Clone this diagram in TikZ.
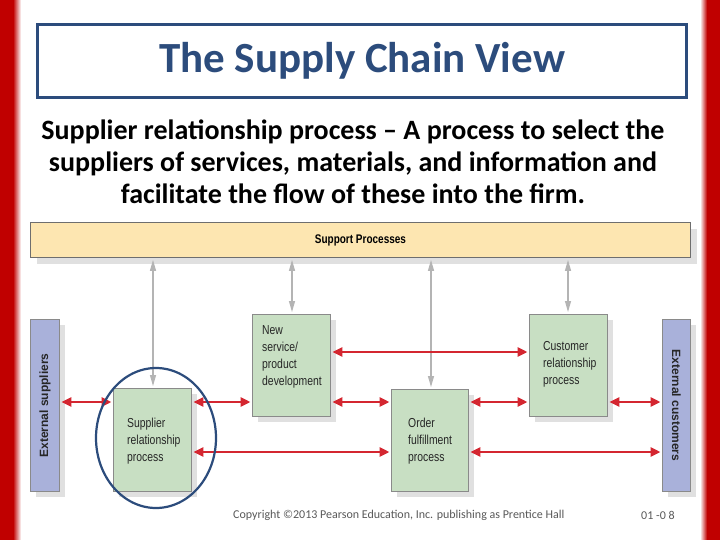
\documentclass[tikz,border=0pt]{standalone}
\usepackage{fontspec}
\setmainfont{Carlito}
\newfontfamily\diagfont[FakeStretch=0.8]{Liberation Sans}
\newfontfamily\sidefont{Liberation Sans}
\usetikzlibrary{arrows.meta,shadows}
\definecolor{titleblue}{HTML}{2C4C7C}
\definecolor{borderred}{HTML}{C00000}
\definecolor{arrowred}{HTML}{D42630}
\definecolor{boxgreen}{HTML}{C8DFC3}
\definecolor{boxlav}{HTML}{A9B1DA}
\definecolor{supyellow}{HTML}{FDE6B1}
\definecolor{shadowgray}{HTML}{E0E0E0}
\definecolor{conngray}{HTML}{B4B4B4}
\definecolor{edgegray}{HTML}{8A8A8A}
\tikzset{
  procbox/.style={draw=edgegray, line width=0.9pt, fill=boxgreen, anchor=north west,
    drop shadow={shadow xshift=6pt, shadow yshift=-6pt, fill=shadowgray, opacity=1}},
  extbox/.style={draw=edgegray, line width=0.9pt, fill=boxlav, anchor=north west,
    drop shadow={shadow xshift=6pt, shadow yshift=-6pt, fill=shadowgray, opacity=1}},
  boxtext/.style={anchor=west, align=left, font=\diagfont\fontsize{13}{17}\selectfont, text=black!85, inner sep=0pt},
  redarrow/.style={draw=arrowred, line width=2.8pt, {Triangle[length=10pt,width=9pt]}-{Triangle[length=10pt,width=9pt]}, shorten <=1.5pt, shorten >=1.5pt},
  grayarrow/.style={draw=conngray, line width=1.1pt, {Triangle[length=11pt,width=6pt]}-{Triangle[length=11pt,width=6pt]}, shorten <=2pt, shorten >=2pt},
}
\begin{document}
\begin{tikzpicture}[x=1pt,y=-1pt]
\useasboundingbox (0,0) rectangle (720,540);
\fill[white] (0,0) rectangle (720,540);
% red borders
\fill[borderred] (0,0) rectangle (13,540);
\shade[left color=borderred, right color=white] (13,0) rectangle (21,540);
\fill[borderred] (707,0) rectangle (720,540);
\shade[left color=white, right color=borderred] (700,0) rectangle (707,540);
% title
\node[draw=titleblue, line width=3pt, minimum width=649pt, minimum height=73pt, anchor=north west,
  font=\bfseries\fontsize{43}{48}\selectfont, text=titleblue] (title) at (36,23) {The Supply Chain View};
% body text
\node[align=center, font=\bfseries\fontsize{28}{32}\selectfont, inner sep=0pt] (body) at (353,162)
  {Supplier relationship process -- A process to select the\\
   suppliers of services, materials, and information and\\
   facilitate the flow of these into the firm.};
% support bar
\node[draw=edgegray!80!black, line width=0.9pt, fill=supyellow, anchor=north west,
  minimum width=660pt, minimum height=35pt,
  drop shadow={shadow xshift=7pt, shadow yshift=-7pt, fill=shadowgray, opacity=1},
  font=\diagfont\bfseries\fontsize{12.5}{14}\selectfont] (support) at (30,222) {Support Processes};
% boxes
\node[extbox, minimum width=29pt, minimum height=172pt] (extsup) at (30,319) {};
\node[extbox, minimum width=28pt, minimum height=172pt] (extcus) at (662,319) {};
\node[procbox, minimum width=78pt, minimum height=103pt] (sup) at (113,388) {};
\node[procbox, minimum width=78pt, minimum height=102pt] (newsvc) at (252,314) {};
\node[procbox, minimum width=77pt, minimum height=102pt] (order) at (391,389) {};
\node[procbox, minimum width=78pt, minimum height=102pt] (cust) at (529,314) {};
% texts
\node[rotate=90, font=\sidefont\bfseries\fontsize{12}{14}\selectfont, text=black!85, inner sep=0pt] (extsuptxt) at (extsup.center) {External suppliers};
\node[rotate=-90, font=\sidefont\bfseries\fontsize{12}{14}\selectfont, text=black!85, inner sep=0pt] (extcustxt) at (extcus.center) {External customers};
\node[boxtext] (suptxt) at (127,441) {Supplier\\relationship\\process};
\node[boxtext] (newtxt) at (262,357) {New\\service/\\product\\development};
\node[boxtext] (ordtxt) at (408,441) {Order\\fulfillment\\process};
\node[boxtext] (custxt) at (543,364) {Customer\\relationship\\process};
% gray arrows
\draw[grayarrow] (support.south -| 153,0) -- (sup.north -| 153,0);
\draw[grayarrow] (support.south -| 292,0) -- (newsvc.north -| 292,0);
\draw[grayarrow] (support.south -| 431,0) -- (order.north -| 431,0);
\draw[grayarrow] (support.south -| 568,0) -- (cust.north -| 568,0);
% red arrows
\draw[redarrow] (extsup.east |- 0,402) -- (sup.west |- 0,402);
\draw[redarrow] (sup.east |- 0,402) -- (newsvc.west |- 0,402);
\draw[redarrow] (newsvc.east |- 0,352) -- (cust.west |- 0,352);
\draw[redarrow] (newsvc.east |- 0,402) -- (order.west |- 0,402);
\draw[redarrow] (sup.east |- 0,452) -- (order.west |- 0,452);
\draw[redarrow] (order.east |- 0,402) -- (cust.west |- 0,402);
\draw[redarrow] (cust.east |- 0,402) -- (extcus.west |- 0,402);
\draw[redarrow] (order.east |- 0,452) -- (extcus.west |- 0,452);
% highlight ellipse
\draw[titleblue, line width=2.2pt] (156,438) ellipse [x radius=60, y radius=70];
% footer
\node[anchor=west, font=\fontsize{12}{14}\selectfont, text=black!65, inner sep=0pt] (copy) at (233,515)
  {Copyright ©2013 Pearson Education, Inc. publishing as Prentice Hall};
\node[anchor=west, font=\fontsize{12}{14}\selectfont, text=black!65, inner sep=0pt] (pg) at (641,515) {01 -0 8};
\end{tikzpicture}
\end{document}
